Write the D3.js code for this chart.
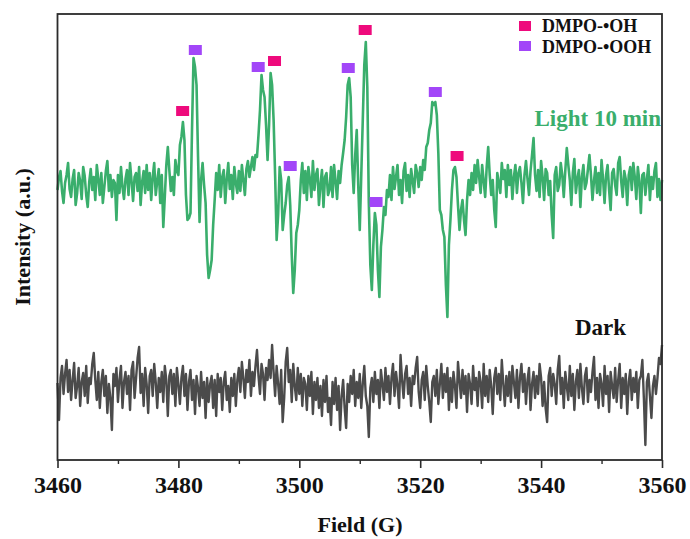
<!DOCTYPE html>
<html><head><meta charset="utf-8">
<script src="https://cdn.jsdelivr.net/npm/d3@7"></script>
<style>
html,body{margin:0;padding:0;background:#fff;}
svg{display:block;}
text{font-family:"Liberation Serif","Times New Roman",serif;font-weight:bold;}
</style></head>
<body>
<svg id="chart" width="690" height="539"></svg>
<script>
// ---- data ----
const fieldStart = 3460;
const fieldStep = 0.25;
const xTicks = [3460, 3480, 3500, 3520, 3540, 3560];
const xMinorTicks = [3470, 3490, 3510, 3530, 3550];
const seriesNames = ["Light 10 min", "Dark"];
const legendNames = ["DMPO-\u2022OH", "DMPO-\u2022OOH"];

// Light 10 min spectrum, one row = 5 G
const lightValues = [
 -5,8,14,-6,-18,2,10,22,-4,-12,6,15,-20,-8,12,4,-14,18,9,-10,
 -22,3,16,-5,8,-15,20,6,-10,12,-18,-2,14,24,-6,10,-12,5,2,-35,
 10,-8,18,-2,-14,6,15,-10,22,4,-16,8,12,-6,18,-20,3,14,-8,20,
 -5,12,-15,8,22,-10,4,16,-18,10,-42,-12,20,38,15,-6,8,-10,25,14,
 10,40,48,63,45,-10,-35,-33,-28,55,127,118,100,28,-37,5,22,0,-18,-70,
 -93,-85,-75,-40,-15,12,-5,20,-12,8,15,-18,6,22,-4,10,-14,18,2,-8,
 14,-6,20,5,-10,16,24,8,18,28,15,30,28,50,75,110,95,88,60,25,
 60,112,100,65,10,-55,-30,18,5,-45,-30,-18,0,8,-20,-70,-108,-85,-48,-40,
 -25,5,22,-8,14,-15,18,6,-12,24,-5,10,16,-20,0,15,-22,8,12,-10,
 -5,18,-12,20,4,-14,14,2,20,32,45,68,100,107,88,20,-8,30,55,0,
 -45,10,65,120,143,98,-18,-80,-105,-60,-28,-40,-85,-112,-62,-45,-22,-30,-5,-12,
 10,-15,18,-4,8,20,-10,5,-18,14,22,-6,10,-12,16,4,-8,20,12,-2,
 18,5,25,15,38,42,55,62,83,80,83,70,32,-25,-30,-45,-52,-100,-132,-60,
 -35,-5,15,18,8,-20,-45,-25,-15,-35,-50,-15,5,-10,12,-5,20,2,25,8,
 -8,20,4,-12,18,38,10,-10,5,-25,-42,12,2,-8,22,6,15,-12,20,0,
 15,-14,8,20,-8,12,18,2,-18,10,24,6,-10,14,30,47,10,-6,15,-12,
 24,8,-15,16,12,-10,4,-30,-53,10,18,-6,0,22,10,-12,14,37,20,5,
 -20,12,26,-8,6,15,-22,8,20,-4,2,16,30,10,-15,4,18,-8,12,-10,
 25,6,-18,10,20,-5,-25,12,16,0,-10,22,28,4,-12,14,6,-20,10,18,
 -5,22,8,-14,18,4,-28,10,12,-10,6,20,-15,8,-4,14,22,-12,6,-15,
 5
];

// Dark spectrum, one row = 5 G
const darkValues = [
 5,-32,10,22,-6,14,28,-4,18,-12,8,25,-10,2,20,-18,6,15,-8,22,
 -15,10,4,24,35,8,-12,16,-20,6,18,-8,12,-25,4,-10,-42,14,2,20,
 -14,8,22,-20,6,16,-6,12,-22,18,26,-10,10,30,41,-5,14,-18,20,4,
 -25,12,18,-8,24,6,-20,10,-4,16,-14,22,8,-28,12,18,-6,14,-18,20,
 4,-16,10,22,-8,14,-22,6,18,-12,8,-26,12,0,-18,16,-10,6,-30,10,
 -14,4,12,-20,8,-28,14,-4,10,-22,6,16,-12,2,-24,10,-8,14,-18,8,
 20,-4,26,10,-10,18,6,28,-8,16,2,22,38,12,-6,24,14,-12,20,8,
 28,10,43,16,-8,22,4,-16,18,-34,-10,26,40,6,18,-14,24,2,-12,20,
 -6,14,-18,10,4,-22,12,-8,16,-26,6,-12,10,-20,2,-28,8,-14,12,-24,
 -10,-37,6,-16,10,-22,2,-42,-8,8,-20,-40,4,-14,12,-6,18,-18,6,-10,
 14,-20,4,22,-8,-18,-49,0,10,-14,16,-6,8,-20,18,4,-12,20,-4,12,
 -16,10,24,-8,16,2,-20,33,8,-10,14,22,-6,10,-18,12,4,20,31,-4,
 -20,8,16,-12,22,2,-14,-34,6,12,-8,18,-16,4,24,-10,14,-4,20,-22,
 10,-14,16,2,-20,26,8,-10,18,-6,12,-24,14,4,-16,22,-2,10,-18,16,
 6,-20,24,-8,12,-14,18,2,-26,10,20,-6,14,-12,28,4,-18,12,-8,16,
 -14,22,6,-10,18,-20,10,24,-4,14,-16,8,20,-22,4,16,-10,12,-6,24,
 10,-18,6,-20,-34,12,20,-8,14,4,-16,18,32,-6,10,-20,16,2,-12,22,
 -8,14,-22,6,18,-10,24,0,-16,12,20,-14,8,-4,16,31,-12,10,-20,14,
 4,-18,22,-6,12,-24,16,2,-10,20,-14,8,24,-20,10,-6,14,-26,6,18,
 -12,10,-4,16,-20,8,12,28,-10,-57,6,14,-8,-30,2,12,-6,10,30,24,
 43
];

// peak markers: field position and intensity level
const ohMarkerFields = [3480.7, 3495.9, 3510.9, 3526.1];
const ohMarkerLevels = [74, 124, 155, 29];
const oohMarkerFields = [3482.8, 3493.2, 3498.5, 3508.1, 3512.7, 3522.5];
const oohMarkerLevels = [135, 118, 19, 117, -17, 93];

// ---- layout / style ----
const plotL = 57.5, plotR = 662, plotT = 14, plotB = 460;
const lightOffset = 0, darkOffset = -203;
const colLight = "#3aae6c", colDark = "#4b4b4b";
const colOH = "#ee0a7c", colOOH = "#a246f8";

const svg = d3.select("#chart");
const x = d3.scaleLinear().domain([3460, 3560]).range([plotL, plotR]);
const y = d3.scaleLinear().domain([-275, 171]).range([plotB, plotT]);

const fieldOf = i => fieldStart + fieldStep * i;

const lineGen = off => d3.line()
  .x((d, i) => x(fieldOf(i)))
  .y(d => y(d + off));

svg.append("path").datum(darkValues)
  .attr("d", lineGen(darkOffset))
  .attr("fill", "none").attr("stroke", colDark)
  .attr("stroke-width", 2.4).attr("stroke-linejoin", "round");

svg.append("path").datum(lightValues)
  .attr("d", lineGen(lightOffset))
  .attr("fill", "none").attr("stroke", colLight)
  .attr("stroke-width", 2.6).attr("stroke-linejoin", "round");

// markers
const mw = 13, mh = 10;
svg.selectAll("rect.oh").data(ohMarkerFields).enter().append("rect")
  .attr("class", "oh")
  .attr("x", d => x(d) - mw / 2)
  .attr("y", (d, i) => y(ohMarkerLevels[i] + lightOffset) - mh / 2)
  .attr("width", mw).attr("height", mh).attr("fill", colOH);
svg.selectAll("rect.ooh").data(oohMarkerFields).enter().append("rect")
  .attr("class", "ooh")
  .attr("x", d => x(d) - mw / 2)
  .attr("y", (d, i) => y(oohMarkerLevels[i] + lightOffset) - mh / 2)
  .attr("width", mw).attr("height", mh).attr("fill", colOOH);

// frame
svg.append("rect").attr("x", plotL).attr("y", plotT)
  .attr("width", plotR - plotL).attr("height", plotB - plotT)
  .attr("fill", "none").attr("stroke", "#2b2b2b").attr("stroke-width", 1.8);

// x axis
const axis = svg.append("g").attr("transform", `translate(0,${plotB})`);
axis.call(d3.axisBottom(x).tickValues(xTicks).tickSize(8).tickPadding(8).tickFormat(d3.format("d")));
axis.select(".domain").remove();
axis.selectAll(".tick line").attr("stroke", "#2b2b2b").attr("stroke-width", 1.6);
axis.selectAll(".tick text").attr("font-size", 24).attr("fill", "#111")
  .style("font-family", '"Liberation Serif","Times New Roman",serif').style("font-weight", "bold");
const minor = svg.append("g").attr("transform", `translate(0,${plotB})`);
minor.call(d3.axisBottom(x).tickValues(xMinorTicks).tickSize(4).tickFormat(""));
minor.select(".domain").remove();
minor.selectAll(".tick line").attr("stroke", "#2b2b2b").attr("stroke-width", 1.4);

// axis titles
svg.append("text").attr("x", 360).attr("y", 532).attr("text-anchor", "middle")
  .attr("font-size", 22).attr("fill", "#111").text("Field (G)");
svg.append("text").attr("transform", "translate(30,237) rotate(-90)")
  .attr("text-anchor", "middle").attr("font-size", 22).attr("fill", "#111")
  .text("Intensity (a.u.)");

// series labels
svg.append("text").attr("x", 661).attr("y", 126).attr("text-anchor", "end")
  .attr("font-size", 23).attr("fill", colLight).text(seriesNames[0]);
svg.append("text").attr("x", 575).attr("y", 335)
  .attr("font-size", 23).attr("fill", "#111").text(seriesNames[1]);

// legend
const legCols = [colOH, colOOH];
legendNames.forEach((name, i) => {
  svg.append("rect").attr("x", 519).attr("y", 21 + i * 20)
    .attr("width", 12).attr("height", 10).attr("fill", legCols[i]);
  svg.append("text").attr("x", 542).attr("y", 32 + i * 20.5)
    .attr("font-size", 18).attr("fill", "#111").text(name);
});
</script>
</body></html>
